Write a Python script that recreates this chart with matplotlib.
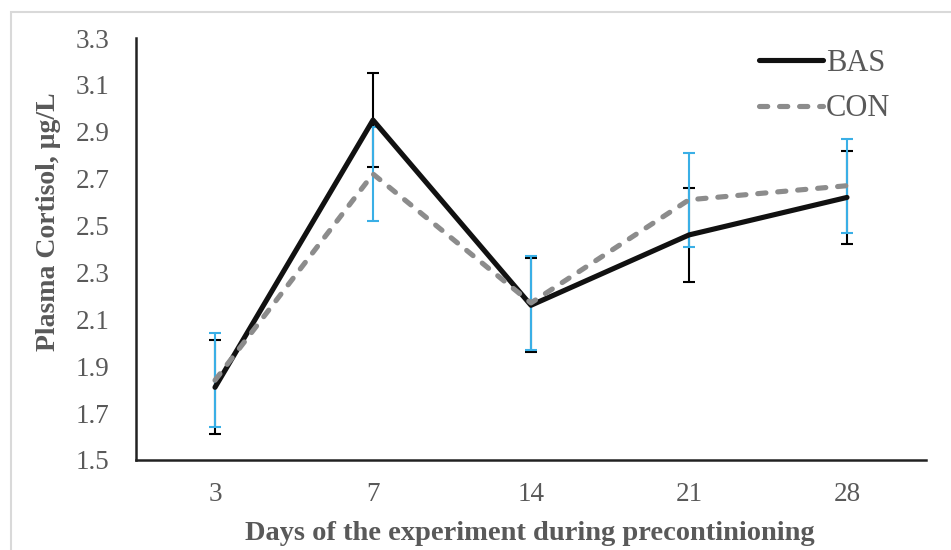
import matplotlib
matplotlib.use('Agg')
from matplotlib import pyplot as plt
from matplotlib.patches import Rectangle

plt.rcParams['font.family'] = ['Liberation Serif', 'DejaVu Serif']

dias = ['3', '7', '14', '21', '28']
bas = [1.81, 2.95, 2.16, 2.46, 2.62]
bas_err = [0.20, 0.20, 0.20, 0.20, 0.20]
con = [1.84, 2.72, 2.17, 2.61, 2.67]
con_err = [0.20, 0.20, 0.20, 0.20, 0.20]
yticks = [1.5, 1.7, 1.9, 2.1, 2.3, 2.5, 2.7, 2.9, 3.1, 3.3]

gris = '#595959'
azul = '#3AAFE6'

fig = plt.figure(figsize=(9.51, 5.5), dpi=100)
ax = fig.add_axes([136 / 951, 1 - 460 / 550, (926 - 136) / 951, (460 - 38) / 550])

# marco gris claro alrededor de la figura
fig.patches.append(Rectangle((11 / 951, -0.01), 1.0, 1 - 12 / 550 + 0.01,
                             transform=fig.transFigure, fill=False,
                             edgecolor='#D9D9D9', linewidth=1.5))

x = list(range(len(dias)))
ax.errorbar(x, bas, yerr=bas_err, fmt='none', ecolor='black', elinewidth=1.5,
            capsize=4, capthick=1.5, zorder=2)
ax.errorbar(x, con, yerr=con_err, fmt='none', ecolor=azul, elinewidth=1.5,
            capsize=4, capthick=1.5, zorder=3)
ax.plot(x, bas, color='#111111', linewidth=3.7, label='BAS', zorder=4,
        solid_capstyle='round')
ax.plot(x, con, color='#8C8C8C', linewidth=3.7, linestyle=(0, (1.6, 2.3)),
        label='CON', zorder=5, dash_capstyle='round')

ax.set_xlim(-0.5, 4.5)
ax.set_ylim(1.5, 3.3)
ax.set_xticks(x)
ax.set_xticklabels(dias)
ax.set_yticks(yticks)
ax.set_yticklabels(['%.1f' % v for v in yticks])
ax.tick_params(length=0, labelsize=19.5, labelcolor=gris)
ax.tick_params(axis='y', pad=19)
ax.tick_params(axis='x', pad=16)

for lado in ['top', 'right']:
    ax.spines[lado].set_visible(False)
for lado in ['left', 'bottom']:
    ax.spines[lado].set_color('#222222')
    ax.spines[lado].set_linewidth(1.8)

ax.set_xlabel('Days of the experiment during precontinioning', fontsize=20.5,
              fontweight='bold', color=gris)
ax.xaxis.set_label_coords((530 - 136) / 790, -(540 - 460) / 422)
ax.xaxis.label.set_va('baseline')
ax.set_ylabel('Plasma Cortisol, μg/L', fontsize=20, fontweight='bold',
              color=gris)
ax.yaxis.set_label_coords((61 - 136) / 790, (460 - 222) / 422)

ax.legend(loc='upper right', bbox_to_anchor=(0.955, 0.975), frameon=False,
          fontsize=22, labelcolor=gris, handlelength=2.1, handletextpad=0.1,
          labelspacing=0.55, borderaxespad=0, borderpad=0)

fig.savefig('out.png', dpi=100)
